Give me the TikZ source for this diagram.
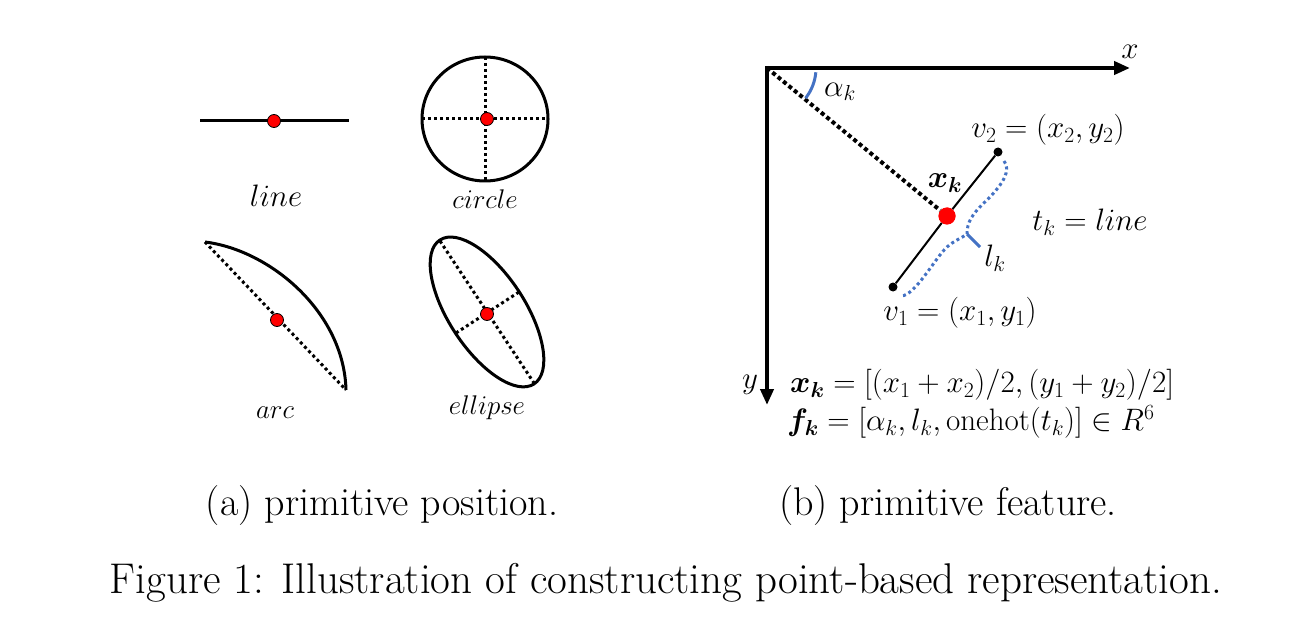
\RequirePackage{fix-cm}
\documentclass[tikz,border=0pt]{standalone}
\usepackage{amsmath,bm}
\usetikzlibrary{arrows.meta}
\definecolor{bluebr}{RGB}{68,114,196}
\tikzset{
  lab/.style={font=\fontsize{31}{37}\selectfont, inner sep=0pt},
  smalllab/.style={font=\fontsize{27}{32}\selectfont, inner sep=0pt},
  captxt/.style={font=\fontsize{40}{48}\selectfont, inner sep=0pt},
  figcap/.style={font=\fontsize{43}{52}\selectfont, inner sep=0pt},
  reddot/.style={circle, fill=red, draw=black, line width=0.8pt, minimum size=13pt, inner sep=0pt},
  bigdot/.style={circle, fill=red, minimum size=17pt, inner sep=0pt},
  blackdot/.style={circle, fill=black, minimum size=9pt, inner sep=0pt},
  outline/.style={line width=3pt},
  dots/.style={line width=3pt, dash pattern=on 3pt off 3pt},
  axis/.style={line width=4pt, -{Triangle[length=16pt,width=13pt]}},
}
\begin{document}
\begin{tikzpicture}[x=1pt,y=-1pt]
\useasboundingbox (0,0) rectangle (1304,631);
% ---------- (a) ----------
% line
\coordinate (la) at (200,121);
\coordinate (lb) at (349,121);
\draw[outline] (la) -- (lb);
\node[reddot] (lc) at (274,121) {};
\node[lab] (ltxt) at (276,196) {$line$};
% circle
\coordinate (cc) at (485,119);
\draw[outline] (cc) ellipse [x radius=63pt, y radius=62pt];
\coordinate (cl) at (422,119); \coordinate (cr) at (548,119);
\coordinate (ct) at (485,57); \coordinate (cb) at (485,181);
\draw[dots] (cl) -- (cr);
\draw[dots] (ct) -- (cb);
\node[reddot] (cdot) at (487,119) {};
\node[smalllab] (ctxt) at (485,199) {$circle$};
% arc
\coordinate (aa) at (205,242);
\coordinate (ab) at (346,390);
\draw[outline] (aa) .. controls (270,250) and (344,312) .. (ab);
\draw[dots] (aa) -- (ab);
\node[reddot] (adot) at (277,320) {};
\node[smalllab] (atxt) at (275,413) {$arc$};
% ellipse
\coordinate (ec) at (487,312);
\draw[outline, rotate around={-56.8:(ec)}] (ec) ellipse [x radius=86pt, y radius=38pt];
\coordinate (e1) at (440,241); \coordinate (e2) at (534,383);
\coordinate (e3) at (456,333); \coordinate (e4) at (519,292);
\draw[dots] (e1) -- (e2);
\draw[dots] (e3) -- (e4);
\node[reddot] (edot) at (487,314) {};
\node[smalllab] (etxt) at (487,408) {$ellipse$};
% ---------- (b) ----------
\coordinate (O) at (767,68);
\coordinate (X) at (1130,68);
\coordinate (Y) at (767,405);
\draw[axis] ([xshift=-2pt]O) -- (X);
\draw[axis] ([yshift=2pt]O) -- (Y);
\node[lab] (xl) at (1130,52) {$x$};
\node[lab] (yl) at (750,385) {$y$};
\node[bigdot] (m) at (947,216) {};
\draw[line width=4pt, dash pattern=on 4pt off 3pt] (O) -- (m);
\draw[bluebr, line width=3pt] ([shift={(-5:49pt)}]O) arc[start angle=-5, end angle=-38, radius=49pt];
\node[lab] (al) at (840,92) {$\alpha_k$};
\node[blackdot] (v1) at (893,287) {};
\node[blackdot] (v2) at (998,152) {};
\draw[line width=2pt] (v1) -- (m) -- (v2);
\node[bigdot] at (m) {};
\node[lab] (xk) at (945,183) {$\bm{x}_{\bm{k}}$};
\node[lab] (v2l) at (1048,130) {$v_2=(x_2,y_2)$};
\node[lab] (v1l) at (960,313) {$v_1=(x_1,y_1)$};
\node[lab] (tk) at (1090,222) {$t_k=line$};
% brace
\coordinate (b1) at (1004,161);
\coordinate (b2) at (987,200);
\coordinate (bt) at (967,234);
\coordinate (b3) at (947,247);
\coordinate (b4) at (901,296);
\coordinate (bp) at (980,247);
\draw[bluebr, line width=3pt, dash pattern=on 3pt off 3pt]
  (b1) .. controls (1011,170) and (1004,183) .. (b2)
  .. controls (972,214) and (967,222) .. (bt)
  .. controls (962,238) and (955,240) .. (b3)
  .. controls (935,258) and (915,296) .. (b4);
\draw[bluebr, line width=3pt] (bt) -- (bp);
\node[lab] (lk) at (995,258) {$l_k$};
\node[lab, anchor=west] (f1) at (790,385) {$\bm{x}_{\bm{k}}=[(x_1+x_2)/2,(y_1+y_2)/2]$};
\node[lab, anchor=west] (f2) at (787,422) {$\bm{f}_{\bm{k}}=[\alpha_k,l_k,\mathrm{onehot}(t_k)]\in R^6$};
% captions
\node[captxt] (capa) at (382,506) {(a) primitive position.};
\node[captxt] (capb) at (948,506) {(b) primitive feature.};
\node[figcap] (capf) at (666,583) {Figure 1: Illustration of constructing point-based representation.};
\end{tikzpicture}
\end{document}
